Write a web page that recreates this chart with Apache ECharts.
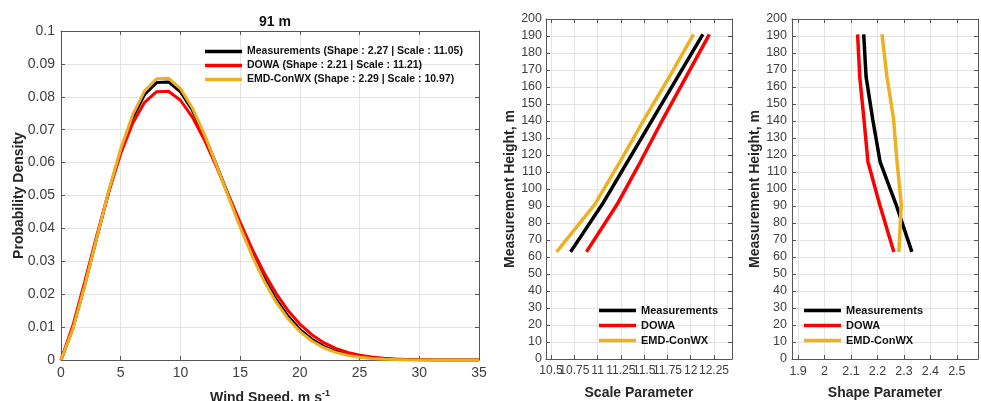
<!DOCTYPE html>
<html>
<head>
<meta charset="utf-8">
<script src="https://cdn.jsdelivr.net/npm/echarts@6/dist/echarts.min.js"></script>
<style>
  html, body { margin: 0; padding: 0; background: #fff; }
  #main { width: 981px; height: 401px; }
</style>
</head>
<body>
<div id="main"></div>
<script>
// left panel: probability density at 91 m
const windSpeed = [0, 1, 2, 3, 4, 5, 6, 7, 8, 9, 10, 11, 12, 13, 14, 15, 16, 17, 18, 19, 20,
  21, 22, 23, 24, 25, 26, 27, 28, 29, 30, 31, 32, 33, 34, 35];
const pdfMeas = [0, 0.00968, 0.02296, 0.03724, 0.05116, 0.06360, 0.07367, 0.08068, 0.08431, 0.08451,
  0.08154, 0.07591, 0.06831, 0.05946, 0.05013, 0.04093, 0.03240, 0.02486, 0.01849, 0.01334, 0.00933,
  0.00633, 0.00416, 0.00265, 0.00164, 0.00098, 0.00057, 0.00032, 0.00017, 0.00009, 0.00005,
  0.00002, 0.00001, 0.00001, 0, 0];
const pdfDowa = [0, 0.01054, 0.02396, 0.03789, 0.05114, 0.06275, 0.07198, 0.07833, 0.08156, 0.08167,
  0.07895, 0.07385, 0.06695, 0.05890, 0.05034, 0.04181, 0.03376, 0.02652, 0.02027, 0.01507, 0.01092,
  0.00769, 0.00527, 0.00352, 0.00229, 0.00145, 0.00089, 0.00053, 0.00031, 0.00018, 0.00010,
  0.00005, 0.00003, 0.00001, 0.00001, 0];
const pdfEmd = [0, 0.00946, 0.02277, 0.03723, 0.05145, 0.06421, 0.07456, 0.08179, 0.08550, 0.08564,
  0.08250, 0.07658, 0.06863, 0.05944, 0.04978, 0.04034, 0.03165, 0.02403, 0.01766, 0.01258, 0.00867,
  0.00578, 0.00373, 0.00233, 0.00141, 0.00083, 0.00047, 0.00026, 0.00014, 0.00007, 0.00003,
  0.00002, 0.00001, 0, 0, 0];
const pdfNames = [
  'Measurements (Shape : 2.27 | Scale : 11.05)',
  'DOWA (Shape : 2.21 | Scale : 11.21)',
  'EMD-ConWX (Shape : 2.29 | Scale : 10.97)'
];

// middle and right panels: profiles over height
const heights = [63, 91, 116, 141, 166, 191];
const scaleMeas = [10.71, 11.05, 11.32, 11.59, 11.86, 12.13];
const scaleDowa = [10.88, 11.21, 11.46, 11.70, 11.95, 12.20];
const scaleEmd = [10.56, 10.97, 11.24, 11.50, 11.77, 12.03];
const shapeMeas = [2.33, 2.27, 2.21, 2.182, 2.157, 2.148];
const shapeDowa = [2.262, 2.208, 2.164, 2.149, 2.133, 2.125];
const shapeEmd = [2.281, 2.290, 2.274, 2.261, 2.236, 2.217];
const profileNames = ['Measurements', 'DOWA', 'EMD-ConWX'];

const scaleTicks = [10.5, 10.75, 11, 11.25, 11.5, 11.75, 12, 12.25];
const shapeTicks = [1.9, 2, 2.1, 2.2, 2.3, 2.4, 2.5];
const scaleRange = [10.446, 12.443];
const shapeRange = [1.877, 2.58];

const colors = ['#000000', '#ff0000', '#edb120'];
const axisColor = '#555555';
const labelColor = '#404040';
const gridColor = '#e4e4e4';
const font = 'Liberation Sans, Arial, sans-serif';

var myChart = echarts.init(document.getElementById('main'));

// one axis with the MATLAB look: box line, inward ticks, light grid
function axis(extra, labelSize, showLabel) {
  return Object.assign({
    type: 'value',
    axisLine: { show: true, onZero: false, lineStyle: { color: axisColor, width: 1 } },
    axisTick: { show: true, inside: true, length: 4, lineStyle: { color: axisColor } },
    axisLabel: { show: showLabel, color: labelColor, fontSize: labelSize, fontFamily: font,
      hideOverlap: false, interval: 0, margin: 6 },
    splitLine: { show: showLabel, lineStyle: { color: gridColor, width: 1 } },
    nameTextStyle: { color: '#262626', fontSize: 14, fontWeight: 'bold', fontFamily: font },
    nameLocation: 'middle'
  }, extra);
}

function pairs(xs, ys) {
  return xs.map((x, i) => [x, ys[i]]);
}

function line(name, data, color, idx, width) {
  return {
    name: name,
    type: 'line',
    xAxisIndex: idx,
    yAxisIndex: idx,
    data: data,
    showSymbol: false,
    symbol: 'none',
    lineStyle: { color: color, width: width },
    itemStyle: { color: color },
    animation: false
  };
}

function legend(names, left, top, size, gap) {
  return {
    data: names,
    left: left,
    top: top,
    orient: 'vertical',
    icon: 'rect',
    itemWidth: 37,
    itemHeight: 3.5,
    itemGap: gap,
    textStyle: { color: '#111', fontSize: size, fontWeight: 'bold', fontFamily: font }
  };
}

var option = {
  animation: false,
  title: {
    text: '91 m',
    left: 270,
    top: 10,
    textAlign: 'center',
    textStyle: { color: '#111', fontSize: 14, fontWeight: 'bold', fontFamily: font }
  },
  grid: [
    { left: 61, top: 31, width: 418, height: 329, outerBoundsMode: 'none' },
    { left: 546, top: 19, width: 186, height: 340, outerBoundsMode: 'none' },
    { left: 792, top: 19, width: 186, height: 340, outerBoundsMode: 'none' }
  ],
  legend: [
    legend(pdfNames, 200, 41, 10.5, 3),
    legend(profileNames, 594, 300, 11, 4),
    legend(profileNames, 799, 300, 11, 4)
  ],
  xAxis: [
    axis({ gridIndex: 0, min: 0, max: 35, interval: 5, name: 'Wind Speed, m s{sup|-1}', nameGap: 29,
      nameTextStyle: { color: '#262626', fontSize: 14, fontWeight: 'bold', fontFamily: font,
        rich: { sup: { fontSize: 9, fontWeight: 'bold', fontFamily: font, color: '#262626', padding: [0, 0, 9, 0] } } } }, 14, true),
    axis({ gridIndex: 1, min: scaleRange[0], max: scaleRange[1], name: 'Scale Parameter', nameGap: 27 }, 12, true),
    axis({ gridIndex: 2, min: shapeRange[0], max: shapeRange[1], name: 'Shape Parameter', nameGap: 27 }, 12.5, true),
    axis({ gridIndex: 0, min: 0, max: 35, interval: 5, position: 'top' }, 14, false),
    axis({ gridIndex: 1, min: scaleRange[0], max: scaleRange[1], position: 'top' }, 12, false),
    axis({ gridIndex: 2, min: shapeRange[0], max: shapeRange[1], position: 'top' }, 12, false)
  ],
  yAxis: [
    axis({ gridIndex: 0, min: 0, max: 0.1, interval: 0.01, name: 'Probability Density', nameGap: 35, nameMoveOverlap: false }, 14, true),
    axis({ gridIndex: 1, min: 0, max: 200, interval: 10, name: 'Measurement Height, m', nameGap: 26 }, 12.5, true),
    axis({ gridIndex: 2, min: 0, max: 200, interval: 10, name: 'Measurement Height, m', nameGap: 26 }, 12.5, true),
    axis({ gridIndex: 0, min: 0, max: 0.1, interval: 0.01, position: 'right' }, 14, false),
    axis({ gridIndex: 1, min: 0, max: 200, interval: 10, position: 'right' }, 12, false),
    axis({ gridIndex: 2, min: 0, max: 200, interval: 10, position: 'right' }, 12, false)
  ],
  series: [
    line(pdfNames[0], pairs(windSpeed, pdfMeas), colors[0], 0, 3),
    line(pdfNames[1], pairs(windSpeed, pdfDowa), colors[1], 0, 3),
    line(pdfNames[2], pairs(windSpeed, pdfEmd), colors[2], 0, 3),
    line(profileNames[0], pairs(scaleMeas, heights), colors[0], 1, 3.5),
    line(profileNames[1], pairs(scaleDowa, heights), colors[1], 1, 3.5),
    line(profileNames[2], pairs(scaleEmd, heights), colors[2], 1, 3.5),
    line(profileNames[0], pairs(shapeMeas, heights), colors[0], 2, 3.5),
    line(profileNames[1], pairs(shapeDowa, heights), colors[1], 2, 3.5),
    line(profileNames[2], pairs(shapeEmd, heights), colors[2], 2, 3.5)
  ]
};

// custom tick positions for the scale and shape axes (limits are not multiples of the step).
// The labels get a blank entry at each end so that the overlap check drops only those,
// and every real label stays visible even where neighbours overlap (as in the original).
[[1, scaleTicks, scaleRange], [2, shapeTicks, shapeRange], [4, scaleTicks, scaleRange], [5, shapeTicks, shapeRange]].forEach(function (p) {
  var ax = option.xAxis[p[0]];
  ax.axisTick.customValues = p[1];
  ax.splitLine.customValues = p[1];
  ax.axisLabel.customValues = [p[2][0]].concat(p[1], [p[2][1]]);
  ax.axisLabel.showMinLabel = false;
  ax.axisLabel.showMaxLabel = false;
  ax.axisLabel.formatter = function (v) {
    return (v === p[2][0] || v === p[2][1]) ? ' ' : String(v);
  };
});
option.yAxis[1].axisLabel.margin = 4;
option.yAxis[2].axisLabel.margin = 5;

myChart.setOption(option);
</script>
</body>
</html>
